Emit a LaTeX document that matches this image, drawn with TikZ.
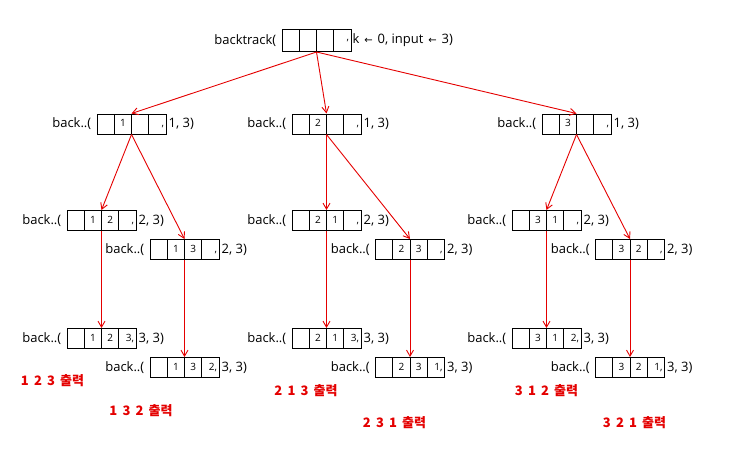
\documentclass[tikz,border=0pt]{standalone}
\usepackage{fontspec}
\setmainfont{Open Sans}
\newfontfamily\krfont{Noto Sans CJK KR}
\newfontfamily\symfont{DejaVu Sans}
\usetikzlibrary{positioning,arrows.meta}

\definecolor{tracered}{RGB}{228,0,0}
\newcommand{\cell}[1]{\makebox[17.25pt]{#1}}
\newcommand{\lastcell}[1]{\makebox[17.25pt][r]{#1,\hspace{2pt}}}
\newcommand{\cells}[3]{\cell{}\cell{#1}\cell{#2}\lastcell{#3}}
\newcommand{\larr}{\hspace{1.5pt}{\symfont\fontsize{10}{10}\selectfont ←}\hspace{1.5pt}}

\tikzset{
cellrow/.style={draw, line width=1pt, minimum width=69pt, minimum height=20pt, inner sep=0pt,
  font=\fontsize{10}{10}\selectfont,
  path picture={\foreach \k in {1,2,3}
    \draw[line width=1pt] ([xshift=\k*17.25pt]path picture bounding box.south west) -- ([xshift=\k*17.25pt]path picture bounding box.north west);}},
call/.style={inner sep=0pt, font=\fontsize{13}{13}\selectfont},
link/.style={draw=tracered, line width=0.9pt, -{Straight Barb[length=6pt,width=7pt]}},
printout/.style={inner sep=0pt, text=tracered, font=\krfont\bfseries\fontsize{13}{13}\selectfont}
}

\begin{document}
\begin{tikzpicture}[x=1pt,y=-1pt]
\useasboundingbox (0,0) rectangle (737,453);
% root call
\node[cellrow, minimum height=22pt] (root) at (316.5,40.5) {\cells{}{}{}};
\node[call, left=5pt of root] (rootl) {backtrack(};
\node[call, right=1pt of root] (rootr) {k \larr{} 0, input \larr{} 3)};
% k = 1
\node[cellrow] (a) at (131.5,124) {\cells{1}{}{}};
\node[cellrow] (b) at (326.5,124) {\cells{2}{}{}};
\node[cellrow] (c) at (576.5,124) {\cells{3}{}{}};
% k = 2
\node[cellrow] (aa) at (101.5,220.5) {\cells{1}{2}{}};
\node[cellrow] (ab) at (184.5,249.5) {\cells{1}{3}{}};
\node[cellrow] (ba) at (326.5,220.5) {\cells{2}{1}{}};
\node[cellrow] (bb) at (410,249.5) {\cells{2}{3}{}};
\node[cellrow] (ca) at (546.5,220.5) {\cells{3}{1}{}};
\node[cellrow] (cb) at (630,249.5) {\cells{3}{2}{}};
% k = 3
\node[cellrow] (aaa) at (101.5,338.5) {\cells{1}{2}{3}};
\node[cellrow] (aba) at (184.5,367.5) {\cells{1}{3}{2}};
\node[cellrow] (baa) at (326.5,338.5) {\cells{2}{1}{3}};
\node[cellrow] (bba) at (410,367.5) {\cells{2}{3}{1}};
\node[cellrow] (caa) at (546.5,338.5) {\cells{3}{1}{2}};
\node[cellrow] (cba) at (630,367.5) {\cells{3}{2}{1}};
% labels round the boxes
\foreach \n/\k in {a/1,b/1,c/1,aa/2,ab/2,ba/2,bb/2,ca/2,cb/2,aaa/3,aba/3,baa/3,bba/3,caa/3,cba/3}{
  \node[call, left=5pt of \n] (\n l) {back..(};
  \node[call, right=2pt of \n] (\n r) {\k, 3)};
}
% output
\node[printout] (outa) at (52.5,381) {1\, 2\, 3 \,출력};
\node[printout] (outb) at (141,411) {1\, 3\, 2 \,출력};
\node[printout] (outc) at (306,391) {2\, 1\, 3 \,출력};
\node[printout] (outd) at (394.5,423) {2\, 3\, 1 \,출력};
\node[printout] (oute) at (546.5,391) {3\, 1\, 2 \,출력};
\node[printout] (outf) at (634.5,423) {3\, 2\, 1 \,출력};
% calls
\foreach \s/\t in {root/a,root/b,root/c,a/aa,a/ab,b/ba,b/bb,c/ca,c/cb,aa/aaa,ab/aba,ba/baa,bb/bba,ca/caa,cb/cba}
  \draw[link] (\s.south) -- (\t.north);
\end{tikzpicture}
\end{document}
